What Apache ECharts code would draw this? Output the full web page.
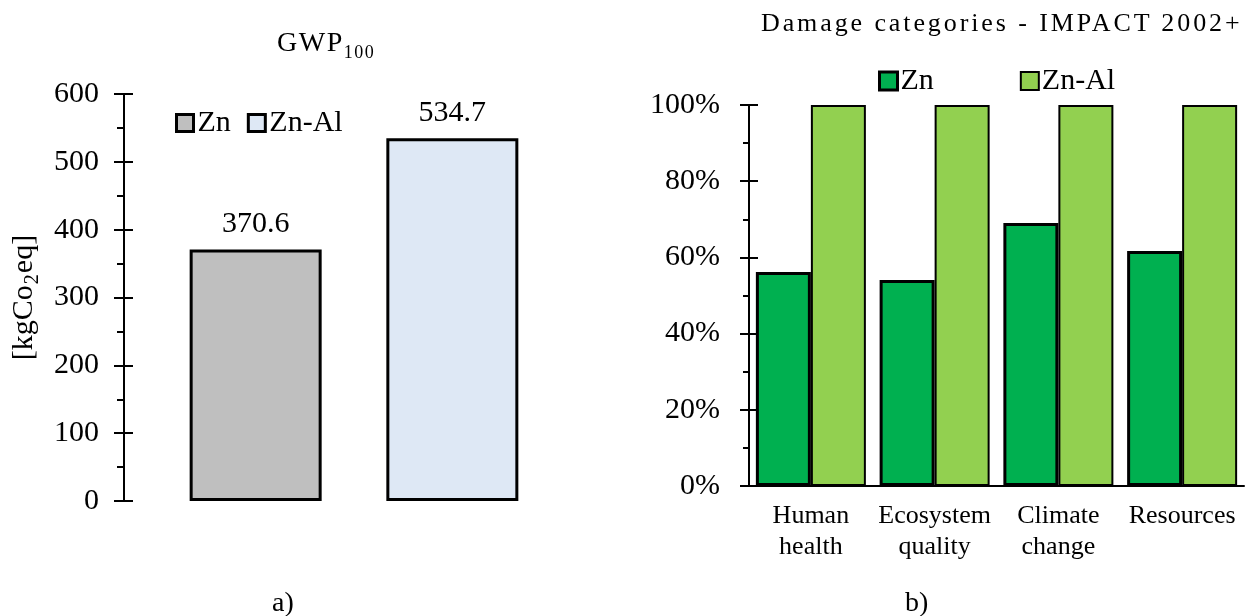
<!DOCTYPE html>
<html>
<head>
<meta charset="utf-8">
<script src="https://cdn.jsdelivr.net/npm/echarts@6/dist/echarts.min.js"></script>
<style>
  html, body { margin: 0; padding: 0; background: #fff; }
  .page { position: relative; width: 1253px; height: 616px; font-family: "Liberation Serif", serif; color: #000; }
  .chart { position: absolute; top: 0; height: 616px; }
  #gwp { left: 0; width: 620px; }
  #damage { left: 620px; width: 633px; }
  .txt { position: absolute; white-space: nowrap; }
  .gwp-title { left: 277px; top: 28px; font-size: 28px; line-height: 28px; letter-spacing: 1.5px; }
  .gwp-title sub { font-size: 18px; vertical-align: -7px; line-height: 0; letter-spacing: 1.5px; }
  .dmg-title { left: 761px; top: 10px; font-size: 26px; line-height: 26px; letter-spacing: 2.9px; }
  .panel { font-size: 28px; line-height: 28px; top: 588px; }
</style>
</head>
<body>
<div class="page">
  <div id="gwp" class="chart"></div>
  <div id="damage" class="chart"></div>
  <div class="txt gwp-title">GWP<sub>100</sub></div>
  <div class="txt dmg-title">Damage categories - IMPACT 2002+</div>
  <div class="txt panel" style="left:272px">a)</div>
  <div class="txt panel" style="left:905px">b)</div>
</div>
<script>
// a) GWP100
const gwpSeries = ["Zn", "Zn-Al"];
const gwpValues = [370.6, 534.7];
const gwpTicks = [0, 600, 100];

// b) damage categories, relative to Zn-Al
const damageCategories = ["Human\nhealth", "Ecosystem\nquality", "Climate\nchange", "Resources"];
const damageZn = [0.562, 0.541, 0.69, 0.617];
const damageZnAl = [1, 1, 1, 1];

const font = "Liberation Serif";
const black = "#000";

const gwpChart = echarts.init(document.getElementById("gwp"));
gwpChart.setOption({
  animation: false,
  textStyle: { fontFamily: font, color: black },
  grid: { left: 124, right: 36, top: 94, bottom: 115 },
  legend: {
    left: 175,
    top: 108,
    padding: 0,
    icon: "rect",
    itemWidth: 17,
    itemHeight: 17,
    itemGap: 16,
    itemStyle: { borderColor: black, borderWidth: 3 },
    textStyle: { fontFamily: font, fontSize: 30, color: black, padding: [0, 0, 0, -1] },
    data: gwpSeries
  },
  xAxis: {
    type: "category",
    data: ["GWP100"],
    axisLine: { show: false },
    axisTick: { show: false },
    axisLabel: { show: false }
  },
  yAxis: [
    {
      type: "value",
      position: "left",
      min: gwpTicks[0],
      max: gwpTicks[1],
      interval: gwpTicks[2],
      name: "{t|[kgCo}{sub|2}{t|eq]}",
      nameLocation: "middle",
      nameRotate: 90,
      nameGap: 77,
      nameTextStyle: {
        fontFamily: font,
        fontSize: 30,
        color: black,
        rich: {
          t: { fontFamily: font, fontSize: 30, lineHeight: 30, color: black, verticalAlign: "top" },
          sub: { fontFamily: font, fontSize: 20, lineHeight: 20, color: black, verticalAlign: "top", padding: [14, 1, 0, 1] }
        }
      },
      axisLine: { show: true, lineStyle: { color: black, width: 2 } },
      axisTick: { show: true, inside: false, length: 10, lineStyle: { color: black, width: 2 } },
      minorTick: { show: true, splitNumber: 2, length: 7, lineStyle: { color: black, width: 2 } },
      axisLabel: { fontFamily: font, fontSize: 30, color: black, margin: 25 },
      splitLine: { show: false }
    },
    {
      type: "value",
      position: "left",
      min: gwpTicks[0],
      max: gwpTicks[1],
      interval: gwpTicks[2],
      axisLine: { show: false },
      axisTick: { show: true, inside: true, length: 9, lineStyle: { color: black, width: 2 } },
      axisLabel: { show: false },
      splitLine: { show: false }
    }
  ],
  series: [
    {
      name: gwpSeries[0],
      type: "bar",
      barWidth: 132,
      barGap: "49%",
      itemStyle: { color: "#bfbfbf", borderColor: black, borderWidth: 3 },
      label: { show: true, position: "top", distance: 10, fontFamily: font, fontSize: 30, color: black },
      data: [gwpValues[0]]
    },
    {
      name: gwpSeries[1],
      type: "bar",
      barWidth: 132,
      itemStyle: { color: "#dee8f5", borderColor: black, borderWidth: 3 },
      label: { show: true, position: "top", distance: 10, fontFamily: font, fontSize: 30, color: black },
      data: [gwpValues[1]]
    }
  ]
});

const damageChart = echarts.init(document.getElementById("damage"));
damageChart.setOption({
  animation: false,
  textStyle: { fontFamily: font, color: black },
  grid: { left: 129, right: 9, top: 105, bottom: 130 },
  legend: {
    left: 258,
    top: 66,
    padding: 0,
    icon: "rect",
    itemWidth: 18,
    itemHeight: 18,
    itemGap: 86,
    textStyle: { fontFamily: font, fontSize: 30, color: black, padding: [0, 0, 0, -2] },
    data: [
      { name: "Zn", itemStyle: { borderColor: black, borderWidth: 3 } },
      { name: "Zn-Al", itemStyle: { borderColor: black, borderWidth: 2 } }
    ]
  },
  xAxis: {
    type: "category",
    data: damageCategories,
    axisLine: { show: true, lineStyle: { color: black, width: 2 } },
    axisTick: { show: false },
    axisLabel: { fontFamily: font, fontSize: 26, lineHeight: 31, color: black, margin: 15, interval: 0 }
  },
  yAxis: [
    {
      type: "value",
      position: "left",
      min: 0,
      max: 1,
      interval: 0.2,
      axisLine: { show: true, lineStyle: { color: black, width: 2 } },
      axisTick: { show: true, inside: false, length: 9, lineStyle: { color: black, width: 2 } },
      minorTick: { show: true, splitNumber: 2, length: 6, lineStyle: { color: black, width: 2 } },
      axisLabel: {
        fontFamily: font,
        fontSize: 30,
        color: black,
        margin: 29,
        formatter: v => Math.round(v * 100) + "%"
      },
      splitLine: { show: false }
    },
    {
      type: "value",
      position: "left",
      min: 0,
      max: 1,
      interval: 0.2,
      axisLine: { show: false },
      axisTick: { show: true, inside: true, length: 9, lineStyle: { color: black, width: 2 } },
      axisLabel: { show: false },
      splitLine: { show: false }
    }
  ],
  series: [
    {
      name: "Zn",
      type: "bar",
      barWidth: 55,
      barGap: "0%",
      itemStyle: { color: "#00b050", borderColor: black, borderWidth: 3 },
      data: damageZn
    },
    {
      name: "Zn-Al",
      type: "bar",
      barWidth: 55,
      itemStyle: { color: "#92d050", borderColor: black, borderWidth: 2 },
      data: damageZnAl
    }
  ]
});
</script>
</body>
</html>
